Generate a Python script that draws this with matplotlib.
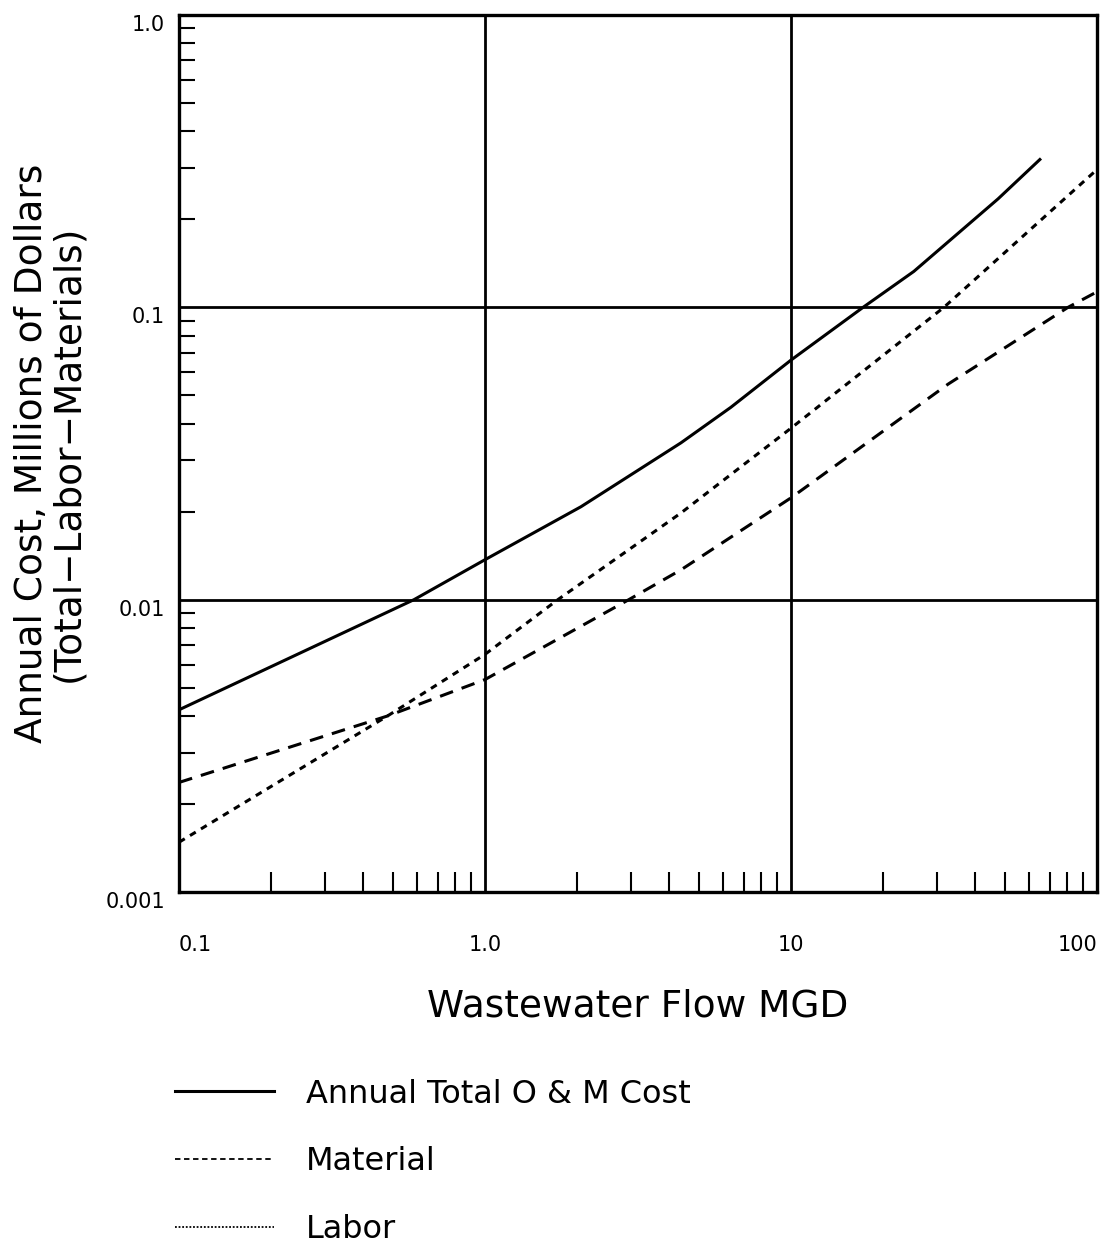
import matplotlib.pyplot as plt
from matplotlib.lines import Line2D
from matplotlib.ticker import LogLocator, FixedLocator, NullFormatter
import matplotlib.transforms as mtransforms

# --- data (flow in MGD, cost in millions $) ---
total_flow = [0.1, 0.3, 0.586, 1.0, 2.06, 4.37, 6.36, 10, 17.2, 25.2, 47.5, 65.6]
total_cost = [0.0042, 0.0072, 0.01, 0.0137, 0.0208, 0.0344, 0.0455, 0.066, 0.1, 0.1327, 0.235, 0.323]

labor_flow = [0.1, 0.48, 1.0, 1.73, 4.37, 10, 31.6, 100]
labor_cost = [0.00148, 0.0040, 0.0065, 0.01, 0.0198, 0.0386, 0.1, 0.296]

material_flow = [0.1, 0.48, 1.0, 2.95, 4.37, 10, 32.6, 80.4, 100]
material_cost = [0.00237, 0.0040, 0.00533, 0.01, 0.01265, 0.0223, 0.0546, 0.1, 0.113]

x_ticks = [0.1, 1.0, 10, 100]
x_tick_labels = ['0.1', '1.0', '10', '100']
y_ticks = [0.001, 0.01, 0.1, 1.0]
y_tick_labels = ['0.001', '0.01', '0.1', '1.0']

legend_labels = ['Annual Total O & M Cost', 'Material', 'Labor']

plt.rcParams['font.family'] = ['DejaVu Sans']

fig = plt.figure(figsize=(11.12, 12.47), dpi=100)
ax = fig.add_axes([179 / 1112, 1 - 892 / 1247, (1097 - 179) / 1112, (892 - 15) / 1247])

ax.plot(total_flow, total_cost, color='black', lw=2.2, solid_capstyle='butt')
ax.plot(labor_flow, labor_cost, color='black', lw=2.2, dashes=(2.2, 2.0))
ax.plot(material_flow, material_cost, color='black', lw=2.2, dashes=(4.5, 3.0))

ax.set_xscale('log')
ax.set_yscale('log')
ax.set_xlim(0.1, 100)
ax.set_ylim(0.001, 1.0)

# major decades drawn as grid lines
for v in x_ticks[1:-1]:
    ax.axvline(v, color='black', lw=2.0)
for v in y_ticks[1:-1]:
    ax.axhline(v, color='black', lw=2.0)

ax.xaxis.set_major_locator(FixedLocator(x_ticks))
ax.yaxis.set_major_locator(FixedLocator(y_ticks))
ax.set_xticklabels(x_tick_labels)
ax.set_yticklabels(y_tick_labels)
ax.xaxis.set_minor_locator(LogLocator(base=10, subs=range(2, 10)))
ax.yaxis.set_minor_locator(LogLocator(base=10, subs=range(2, 10)))
ax.xaxis.set_minor_formatter(NullFormatter())
ax.yaxis.set_minor_formatter(NullFormatter())

ax.tick_params(axis='both', which='major', length=0, labelsize=15)
ax.tick_params(axis='x', which='major', pad=31)
ax.tick_params(axis='y', which='major', pad=10)
ax.tick_params(axis='x', which='minor', direction='in', length=14.5, width=1.5)
ax.tick_params(axis='y', which='minor', direction='in', length=11.5, width=1.5)

xl = ax.get_xticklabels()
xl[0].set_ha('left')
xl[-1].set_ha('right')
offset = mtransforms.ScaledTranslation(0, -8 / 100, fig.dpi_scale_trans)
for lab in ax.get_yticklabels():
    lab.set_transform(lab.get_transform() + offset)

for s in ax.spines.values():
    s.set_linewidth(2.4)

ax.set_xlabel('Wastewater Flow MGD', fontsize=27, labelpad=24)
ax.set_ylabel('Annual Cost, Millions of Dollars\n(Total\u2212Labor\u2212Materials)',
              fontsize=27, labelpad=14, linespacing=1.0)

handles = [
    Line2D([], [], color='black', lw=2.2),
    Line2D([], [], color='black', lw=1.3, dashes=(3, 2)),
    Line2D([], [], color='black', lw=1.3, dashes=(1, 1)),
]
fig.legend(handles, legend_labels, loc='upper left', bbox_to_anchor=(0.157, 0.135),
           frameon=False, fontsize=23, handlelength=3.1, handletextpad=1.0,
           labelspacing=1.15, borderpad=0, borderaxespad=0)

fig.savefig('out.png', dpi=100)
